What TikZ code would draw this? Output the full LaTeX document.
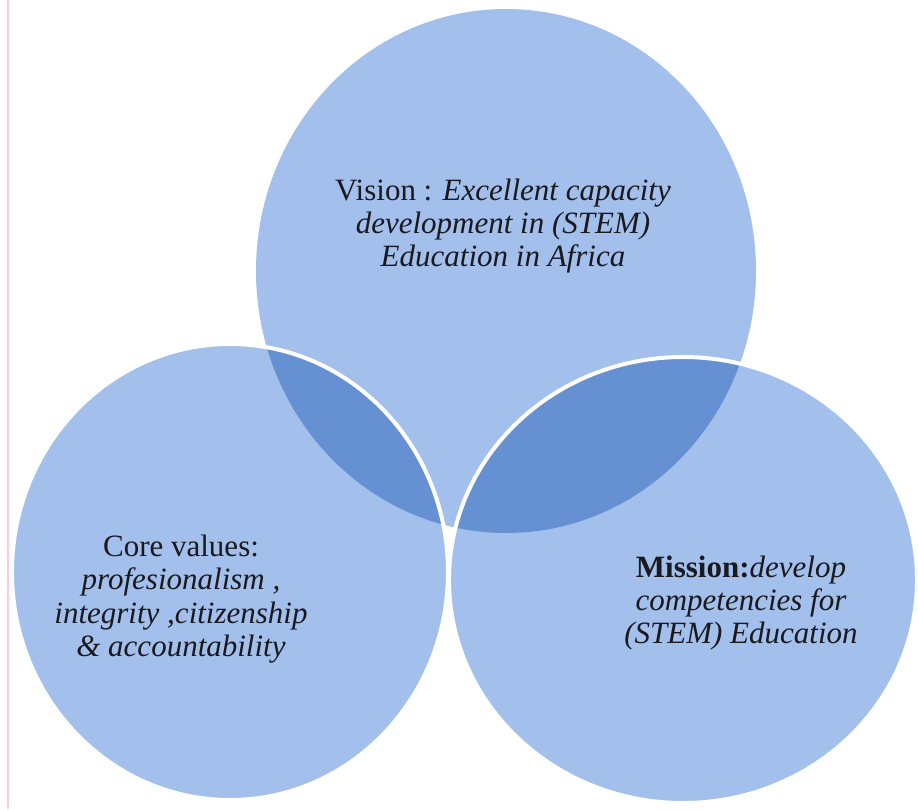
\documentclass[tikz,border=0pt]{standalone}
\usepackage{fontspec}
\setmainfont{Liberation Serif}
\definecolor{lightfill}{RGB}{163,191,235}
\definecolor{darkfill}{RGB}{101,144,209}
\definecolor{txt}{RGB}{25,25,30}
\definecolor{marginpink}{RGB}{246,205,225}
\begin{document}
\begin{tikzpicture}[x=1pt,y=-1pt,
  txtnode/.style={align=center, text=txt, font=\fontsize{31}{33.3}\selectfont, inner sep=0pt},
  ring/.style={draw=white, line width=4pt}]
\useasboundingbox (0,0) rectangle (918,809);
\fill[white] (0,0) rectangle (918,809);
\draw[marginpink, line width=1.2pt] (8,0) -- (8,809);
\coordinate (T) at (506,271);
\coordinate (L) at (230,572);
\coordinate (R) at (683,580);
% top circle
\fill[lightfill] (T) ellipse [x radius=250pt, y radius=262pt];
% left and right circles
\fill[lightfill] (L) ellipse [x radius=218pt, y radius=228pt];
\fill[lightfill] (R) ellipse [x radius=234pt, y radius=223pt];
% overlaps
\begin{scope}
  \clip (T) ellipse [x radius=250pt, y radius=262pt];
  \fill[darkfill] (L) ellipse [x radius=218pt, y radius=228pt];
  \fill[darkfill] (R) ellipse [x radius=234pt, y radius=223pt];
\end{scope}
% white outlines
\draw[ring] (L) ellipse [x radius=218pt, y radius=228pt];
\draw[ring] (R) ellipse [x radius=234pt, y radius=223pt];
% texts
\node[txtnode] (vision) at (503,226) {Vision : \textit{Excellent capacity}\\ \textit{development in (STEM)}\\ \textit{Education in Africa}};
\node[txtnode] (core) at (181,599) {Core values:\\ \textit{profesionalism ,}\\ \textit{integrity ,citizenship}\\ \textit{\& accountability}};
\node[txtnode] (mission) at (741,603) {\textbf{Mission:}\textit{develop}\\ \textit{competencies for}\\ \textit{(STEM) Education}};
\end{tikzpicture}
\end{document}
